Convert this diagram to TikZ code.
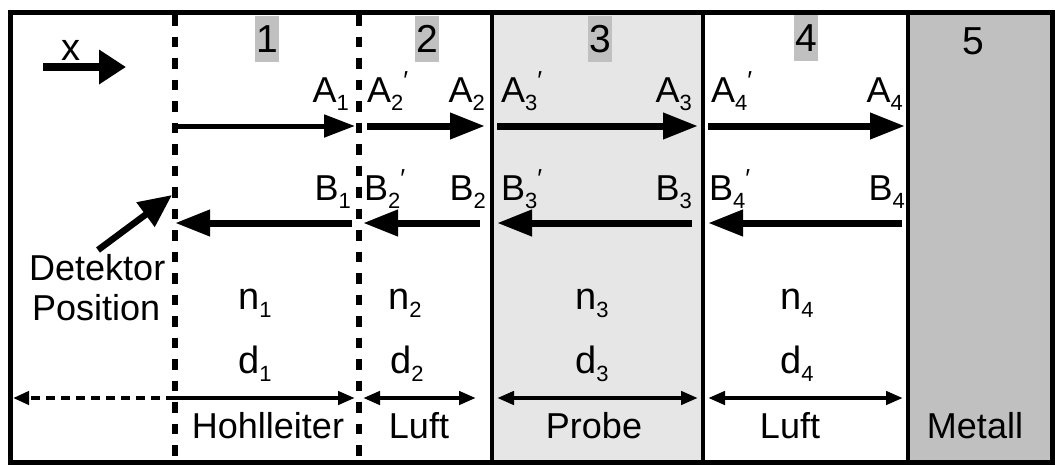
\documentclass[tikz,border=0pt]{standalone}
\usepackage{fontspec}
\setmainfont{Liberation Sans}
\usetikzlibrary{arrows.meta}
\definecolor{probegray}{HTML}{E6E6E6}
\definecolor{metalgray}{HTML}{C0C0C0}
\newcommand{\lsub}[1]{\raisebox{-8pt}{\fontsize{22}{22}\selectfont #1}}
\newcommand{\lprm}{\raisebox{13pt}{\fontsize{26}{26}\selectfont ′}}
\tikzset{
  lab/.style={inner sep=0pt, font=\fontsize{36}{36}\selectfont},
  biglab/.style={inner sep=0pt, anchor=base, font=\fontsize{38}{38}\selectfont},
  numbox/.style={inner sep=0pt, fill=metalgray, minimum width=24pt, minimum height=46pt, font=\fontsize{39}{39}\selectfont},
  numlab/.style={inner sep=0pt, font=\fontsize{39}{39}\selectfont},
  frameline/.style={line width=5pt},
  bline/.style={line width=4.5pt},
  dline/.style={line width=5.5pt, dash pattern=on 10.5pt off 11pt},
  thinwave/.style={line width=5pt, -{Triangle[length=31pt,width=22pt]}},
  wave/.style={line width=7pt, -{Triangle[length=35pt,width=25pt]}},
  dim/.style={line width=4.5pt, -{Triangle[length=17pt,width=13pt]}},
  dimboth/.style={line width=4.5pt, {Triangle[length=17pt,width=13pt]}-{Triangle[length=17pt,width=13pt]}},
  dimdash/.style={line width=4.5pt, dash pattern=on 9pt off 6pt, -{Triangle[length=16pt,width=13pt]}},
}
\begin{document}
\begin{tikzpicture}[x=1pt,y=-1pt]
\useasboundingbox (0,0) rectangle (1055,464);
% fills
\fill[probegray] (492,12.5) rectangle (703,462);
\fill[metalgray] (908,12.5) rectangle (1052,462);
% layer numbers
\node[numbox] (num1) at (267,39) {1};
\node[numbox] (num2) at (427,39) {2};
\node[numbox] (num3) at (600,39) {3};
\node[numbox] (num4) at (806,38) {4};
\node[numlab] (num5) at (973,41) {5};
% boundaries
\coordinate (b1t) at (175,15);  \coordinate (b1b) at (175,462);
\coordinate (b2t) at (359,15);  \coordinate (b2b) at (359,462);
\coordinate (b3t) at (492,12.5); \coordinate (b3b) at (492,462);
\coordinate (b4t) at (703,12.5); \coordinate (b4b) at (703,462);
\coordinate (b5t) at (908,12.5); \coordinate (b5b) at (908,462);
\draw[dline] (b1t) -- (b1b);
\draw[dline] (b2t) -- (b2b);
\draw[bline] (b3t) -- (b3b);
\draw[bline] (b4t) -- (b4b);
\draw[bline] (b5t) -- (b5b);
\draw[frameline] (10,12.5) rectangle (1052,462);
% x direction
\coordinate (xs) at (43,67); \coordinate (xe) at (126,67);
\draw[line width=7.5pt, -{Triangle[length=27pt,width=33pt]}] (xs) -- (xe);
\node[lab, anchor=base west, font=\fontsize{38}{38}\selectfont] (xlab) at (61,60) {x};
% forward waves A
\coordinate (a1s) at (175,126); \coordinate (a1e) at (355,126);
\coordinate (a2s) at (367,126); \coordinate (a2e) at (485,126);
\coordinate (a3s) at (497,126); \coordinate (a3e) at (698,126);
\coordinate (a4s) at (708,126); \coordinate (a4e) at (905,126);
\draw[thinwave] (a1s) -- (a1e);
\draw[wave] (a2s) -- (a2e);
\draw[wave] (a3s) -- (a3e);
\draw[wave] (a4s) -- (a4e);
% backward waves B
\coordinate (c1s) at (352,223); \coordinate (c1e) at (175,223);
\coordinate (c2s) at (480,223); \coordinate (c2e) at (363,223);
\coordinate (c3s) at (692,223); \coordinate (c3e) at (497,223);
\coordinate (c4s) at (902,223); \coordinate (c4e) at (708,223);
\draw[wave] (c1s) -- (c1e);
\draw[wave] (c2s) -- (c2e);
\draw[wave] (c3s) -- (c3e);
\draw[wave] (c4s) -- (c4e);
% A labels
\node[lab, anchor=base east] (A1) at (349,102) {A\lsub{1}};
\node[lab, anchor=base west] (A2p) at (367,102) {A\lsub{2}\lprm};
\node[lab, anchor=base east] (A2) at (485,102) {A\lsub{2}};
\node[lab, anchor=base west] (A3p) at (501,102) {A\lsub{3}\lprm};
\node[lab, anchor=base east] (A3) at (692,102) {A\lsub{3}};
\node[lab, anchor=base west] (A4p) at (711,102) {A\lsub{4}\lprm};
\node[lab, anchor=base east] (A4) at (903,102) {A\lsub{4}};
% B labels
\node[lab, anchor=base east] (B1) at (351,200) {B\lsub{1}};
\node[lab, anchor=base west] (B2p) at (364,200) {B\lsub{2}\lprm};
\node[lab, anchor=base east] (B2) at (486,200) {B\lsub{2}};
\node[lab, anchor=base west] (B3p) at (501,200) {B\lsub{3}\lprm};
\node[lab, anchor=base east] (B3) at (692,200) {B\lsub{3}};
\node[lab, anchor=base west] (B4p) at (709,200) {B\lsub{4}\lprm};
\node[lab, anchor=base east] (B4) at (905,200) {B\lsub{4}};
% detector
\node[lab, anchor=base west] (det) at (29,280) {Detektor};
\node[lab, anchor=base west] (pos) at (32,320) {Position};
\coordinate (dets) at (98,250); \coordinate (dete) at (172,195);
\draw[line width=6.5pt, -{Triangle[length=33pt,width=29pt]}] (dets) -- (dete);
% refractive indices and thicknesses
\node[biglab] (n1) at (255,309) {n\lsub{1}};
\node[biglab] (n2) at (405,309) {n\lsub{2}};
\node[biglab] (n3) at (592,309) {n\lsub{3}};
\node[biglab] (n4) at (797,309) {n\lsub{4}};
\node[biglab] (d1) at (255,373) {d\lsub{1}};
\node[biglab] (d2) at (407,373) {d\lsub{2}};
\node[biglab] (d3) at (592,373) {d\lsub{3}};
\node[biglab] (d4) at (797,373) {d\lsub{4}};
% dimension lines
\coordinate (e0) at (13,398);
\coordinate (e1s) at (175,398); \coordinate (e1e) at (355,398);
\coordinate (e2s) at (363,398); \coordinate (e2e) at (476,398);
\coordinate (e3s) at (497,398); \coordinate (e3e) at (698,398);
\coordinate (e4s) at (708,398); \coordinate (e4e) at (903,398);
\draw[dimdash] (e1s) -- (e0);
\draw[dim] (e1s) -- (e1e);
\draw[dimboth] (e2s) -- (e2e);
\draw[dimboth] (e3s) -- (e3e);
\draw[dimboth] (e4s) -- (e4e);
% material names
\node[lab, anchor=base] (hl) at (268,438) {Hohlleiter};
\node[lab, anchor=base] (luft1) at (419,438) {Luft};
\node[lab, anchor=base] (probe) at (594,438) {Probe};
\node[lab, anchor=base] (luft2) at (790,438) {Luft};
\node[lab, anchor=base] (metall) at (975,438) {Metall};
\end{tikzpicture}
\end{document}
